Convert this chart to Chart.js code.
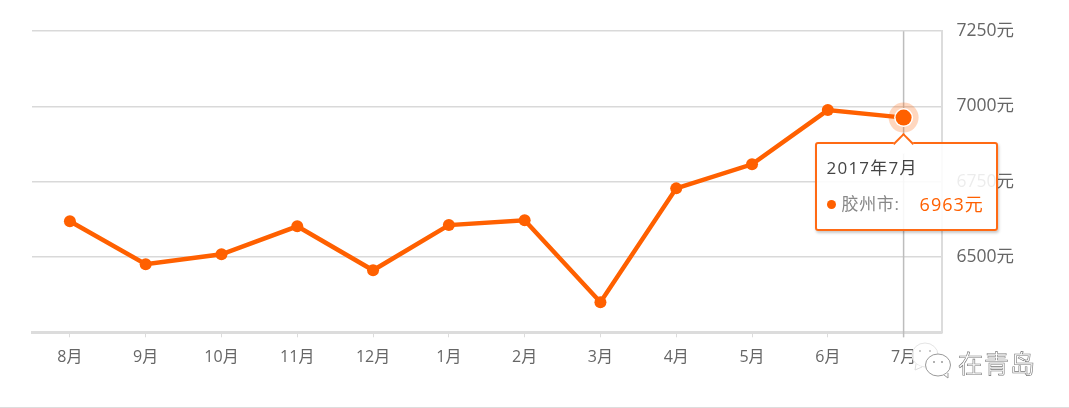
<!DOCTYPE html>
<html>
<head>
<meta charset="utf-8">
<style>
html,body{margin:0;padding:0;background:#fff;overflow:hidden}
#wrap{position:relative;width:1069px;height:408px;font-family:"Open Sans","Noto Sans CJK SC",sans-serif}
#foot{position:absolute;left:0;right:0;top:407px;height:1px;background:#ddd}
#tip{position:absolute;width:179px;height:85px;box-sizing:content-box;border:2px solid #ff6a14;border-radius:3px;background:rgba(255,255,255,.88);box-shadow:1px 2px 3px rgba(0,0,0,.22)}
#caret{position:absolute;left:79px;top:-8px;width:13px;height:13px;background:#fff;border-left:2px solid #ff6a14;border-top:2px solid #ff6a14;transform:rotate(45deg)}
#tipTitle{position:absolute;left:10px;top:10px;font-size:17px;letter-spacing:1.2px;color:#444;white-space:nowrap}
#tipRow{position:absolute;left:10px;top:46px;font-size:17px;letter-spacing:.6px;color:#888;white-space:nowrap}
#tipRow i{display:inline-block;width:9px;height:9px;border-radius:50%;background:#ff6000;margin-right:6px;vertical-align:1px}
#tipVal{position:absolute;left:103px;top:46px;font-size:18px;letter-spacing:1px;color:#ff6000;white-space:nowrap}
#mark{position:absolute;left:958px;top:344px;font-size:25px;letter-spacing:1px;color:#fff;-webkit-text-stroke:.6px #777;font-family:"Noto Sans CJK SC",sans-serif;line-height:36px}
#logo{position:absolute;left:910px;top:340px}
</style>
</head>
<body>
<div id="wrap">
<canvas id="trend" width="1069" height="408"></canvas>
<svg id="logo" width="46" height="40" viewBox="0 0 46 40" fill="none">
  <ellipse cx="15" cy="15" rx="13" ry="12" fill="rgba(255,255,255,.7)" stroke="#e4e4e4"/>
  <path d="M6 24l-1 6 7-3" fill="#fff" stroke="#ddd"/>
  <ellipse cx="28" cy="25" rx="12.5" ry="11" fill="#fff" stroke="#999"/>
  <path d="M34 35l4 3 0-5" fill="#fff" stroke="#999"/>
  <circle cx="24" cy="22" r="1" fill="#999"/><circle cx="32" cy="22" r="1" fill="#999"/>
  <circle cx="10" cy="11" r="1" fill="#bbb"/><circle cx="20" cy="11" r="1" fill="#bbb"/>
</svg>
<div id="mark">在青岛</div>
<div id="tip" style="display:none"><div id="caret"></div><div id="tipTitle"></div><div id="tipRow"><i></i><span id="tipName"></span></div><div id="tipVal"></div></div>
<div id="foot"></div>
</div>
<script src="https://cdn.jsdelivr.net/npm/chart.js@4/dist/chart.umd.min.js"></script>
<script>
var months = ['8月','9月','10月','11月','12月','1月','2月','3月','4月','5月','6月','7月'];
var prices = [6619,6476,6509,6602,6456,6606,6622,6350,6728,6808,6988,6963];
var yTicks = [6250,6500,6750,7000,7250];
var seriesName = '胶州市';
var tipYear = '2017年';
var activeIdx = 11;
var orange = '#ff6000';
var fontFam = '"Open Sans","Noto Sans CJK SC",sans-serif';

// halo and vertical line for the active month
var marker = {
  id: 'marker',
  beforeDatasetsDraw: function(chart) {
    var el = chart.getDatasetMeta(0).data[activeIdx];
    var c = chart.ctx, area = chart.chartArea;
    c.save();
    c.strokeStyle = '#bdbdbd';
    c.lineWidth = 1.5;
    c.beginPath();
    c.moveTo(el.x, area.top);
    c.lineTo(el.x, area.bottom + 5);
    c.stroke();
    c.restore();
  },
  afterDatasetsDraw: function(chart) {
    var el = chart.getDatasetMeta(0).data[activeIdx];
    var c = chart.ctx;
    c.save();
    c.fillStyle = 'rgba(255,96,0,.25)';
    c.beginPath();
    c.arc(el.x, el.y, 15, 0, Math.PI * 2);
    c.fill();
    c.fillStyle = '#fff';
    c.beginPath();
    c.arc(el.x, el.y, 9.5, 0, Math.PI * 2);
    c.fill();
    c.fillStyle = orange;
    c.beginPath();
    c.arc(el.x, el.y, 8, 0, Math.PI * 2);
    c.fill();
    c.restore();
  }
};

function showTip(ctx) {
  var t = ctx.tooltip, box = document.getElementById('tip');
  if (!t.opacity || !t.dataPoints) { return; }
  var p = t.dataPoints[0];
  document.getElementById('tipTitle').textContent = tipYear + p.label;
  document.getElementById('tipName').textContent = p.dataset.label + ':';
  document.getElementById('tipVal').textContent = p.raw + '元';
  box.style.display = 'block';
  box.style.left = (p.element.x - 89) + 'px';
  box.style.top = (p.element.y + 24) + 'px';
}

var chart = new Chart(document.getElementById('trend').getContext('2d'), {
  type: 'line',
  data: {
    labels: months,
    datasets: [{
      label: seriesName,
      data: prices,
      borderColor: orange,
      backgroundColor: orange,
      borderWidth: 4.5,
      pointRadius: 6,
      pointHoverRadius: 6,
      pointBorderWidth: 0,
      pointHoverBorderWidth: 0,
      tension: 0
    }]
  },
  plugins: [marker],
  options: {
    responsive: false,
    animation: false,
    events: [],
    layout: { padding: { left: 32, top: 31.2, right: 0, bottom: 0 } },
    plugins: {
      legend: { display: false },
      tooltip: { enabled: false, external: showTip }
    },
    scales: {
      x: {
        offset: true,
        afterFit: function(s) { s.height = 75.7; },
        border: { color: '#dcdcdc', width: 3 },
        grid: { drawOnChartArea: false, drawTicks: true, tickLength: 5, color: '#dcdcdc' },
        ticks: { color: '#666', padding: 11, maxRotation: 0, autoSkip: false, font: { family: fontFam, size: 16 } }
      },
      y: {
        position: 'right',
        min: yTicks[0],
        max: yTicks[yTicks.length - 1],
        afterFit: function(s) { s.width = 127.5; },
        border: { color: '#dcdcdc', width: 2 },
        grid: { color: '#d9d9d9', lineWidth: 1.5, drawTicks: false },
        afterBuildTicks: function(s) { s.ticks = yTicks.map(function(v) { return { value: v }; }); },
        ticks: {
          color: '#666',
          padding: 15,
          font: { family: fontFam, size: 17.5 },
          callback: function(v) { return v === yTicks[0] ? '' : v + '元'; }
        }
      }
    }
  }
});

var act = [{ datasetIndex: 0, index: activeIdx }];
chart.setActiveElements(act);
chart.tooltip.setActiveElements(act, { x: 0, y: 0 });
chart.update();
</script>
</body>
</html>
